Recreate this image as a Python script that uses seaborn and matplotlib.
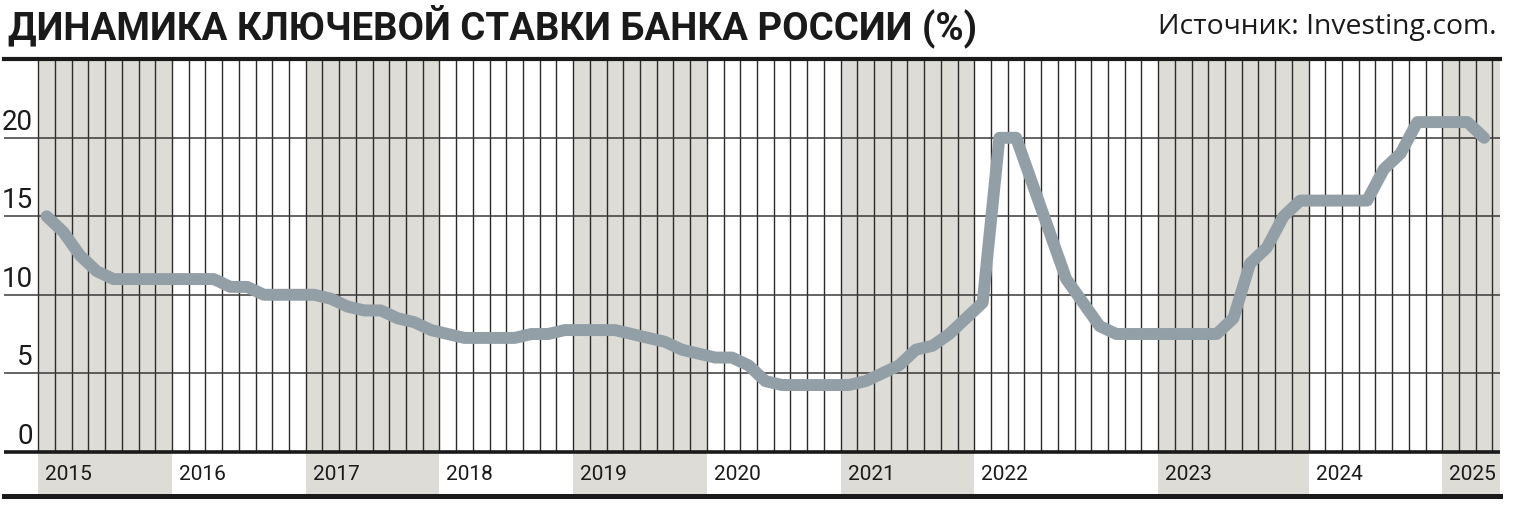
import matplotlib
matplotlib.use("Agg")
import matplotlib.pyplot as plt
from matplotlib import font_manager
import seaborn as sns
import numpy as np
import pandas as pd

# key rate at each Bank of Russia meeting, grouped by year
years = [2015, 2016, 2017, 2018, 2019, 2020, 2021, 2022, 2023, 2024, 2025]
rate_2015 = [15, 14, 12.5, 11.5, 11, 11, 11, 11]
rate_2016 = [11, 11, 11, 10.5, 10.5, 10, 10, 10]
rate_2017 = [10, 9.75, 9.25, 9, 9, 8.5, 8.25, 7.75]
rate_2018 = [7.5, 7.25, 7.25, 7.25, 7.25, 7.5, 7.5, 7.75]
rate_2019 = [7.75, 7.75, 7.75, 7.5, 7.25, 7.0, 6.5, 6.25]
rate_2020 = [6.0, 6.0, 5.5, 4.5, 4.25, 4.25, 4.25, 4.25]
rate_2021 = [4.25, 4.5, 5.0, 5.5, 6.5, 6.75, 7.5, 8.5]
rate_2022 = [9.5, 20, 20, 17, 14, 11, 9.5, 8, 7.5, 7.5, 7.5]
rate_2023 = [7.5, 7.5, 7.5, 7.5, 8.5, 12, 13, 15, 16]
rate_2024 = [16, 16, 16, 16, 18, 19, 21, 21]
rate_2025 = [21, 21, 20]
# 2025 column count shown on the axis (last column is cut)
cols_2025 = 3.45

y_ticks = [0, 5, 10, 15, 20]

title = "ДИНАМИКА КЛЮЧЕВОЙ СТАВКИ БАНКА РОССИИ (%)"
source = "Источник: Investing.com."

rates_by_year = [rate_2015, rate_2016, rate_2017, rate_2018, rate_2019, rate_2020,
                 rate_2021, rate_2022, rate_2023, rate_2024, rate_2025]


def pick_font(names):
    for n in names:
        try:
            font_manager.findfont(n, fallback_to_default=False)
            return n
        except Exception:
            continue
    return "DejaVu Sans"


sns.set_style("white")
narrow = pick_font(["Liberation Sans Narrow", "Roboto", "DejaVu Sans"])
regular = pick_font(["Open Sans", "Roboto", "DejaVu Sans"])
plt.rcParams["font.family"] = [narrow, "DejaVu Sans"]

# build meeting index table
rows = []
year_start = {}
pos = 0
for yr, vals in zip(years, rates_by_year):
    year_start[yr] = pos
    for v in vals:
        rows.append({"pos": pos + 0.5, "rate": v, "year": yr})
        pos += 1
df = pd.DataFrame(rows)
x_right = year_start[2025] + cols_2025

W, H = 1513, 507
fig = plt.figure(figsize=(W / 100, H / 100), dpi=100)
ax = fig.add_axes([4 / W, 11 / H, 1496 / W, 436.7 / H])

ymin = -2.82
ax.set_xlim(-2.05, x_right)
ax.set_ylim(ymin, 25)

shade = "#dddcd6"
for i, yr in enumerate(years):
    if i % 2 == 0:
        end = year_start[years[i + 1]] if i + 1 < len(years) else x_right
        ax.axvspan(year_start[yr], end, color=shade, lw=0, zorder=0)

# meeting column lines
ax.vlines(np.arange(0, int(x_right) + 1), 0, 25, color="#2b2b2b", lw=1.0, zorder=1)

for v in y_ticks[1:]:
    ax.axhline(v, color="#3a3a3a", lw=1.1, zorder=1)
ax.axhline(0, color="#1a1a1a", lw=2.6, zorder=3)

sns.lineplot(data=df, x="pos", y="rate", ax=ax, color="#939fa7", linewidth=8.6,
             estimator=None, solid_capstyle="round", solid_joinstyle="round", zorder=4)

for v in y_ticks:
    ax.text(-0.32, v + 0.5, str(v), ha="right", va="baseline", fontsize=20,
            color="#1a1a1a", zorder=5)

for yr in years:
    ax.text(year_start[yr] + 0.42, -1.45, str(yr), ha="left", va="center",
            fontsize=15, color="#1a1a1a", zorder=5)

ax.set_xticks([])
ax.set_yticks([])
ax.set_xlabel("")
ax.set_ylabel("")
for s in ["left", "right"]:
    ax.spines[s].set_visible(False)
ax.spines["top"].set_linewidth(3.0)
ax.spines["top"].set_color("#1a1a1a")
ax.spines["bottom"].set_linewidth(3.6)
ax.spines["bottom"].set_color("#1a1a1a")

fig.text(8 / W, 1 - 39 / H, title, ha="left", va="baseline", fontsize=27.6,
         fontweight="bold", color="#1a1a1a", family=[narrow, "DejaVu Sans"])
fig.text(1497 / W, 1 - 34 / H, source, ha="right", va="baseline", fontsize=20.4,
         color="#1a1a1a", family=[regular, "DejaVu Sans"])

fig.savefig("out.png", dpi=100)
